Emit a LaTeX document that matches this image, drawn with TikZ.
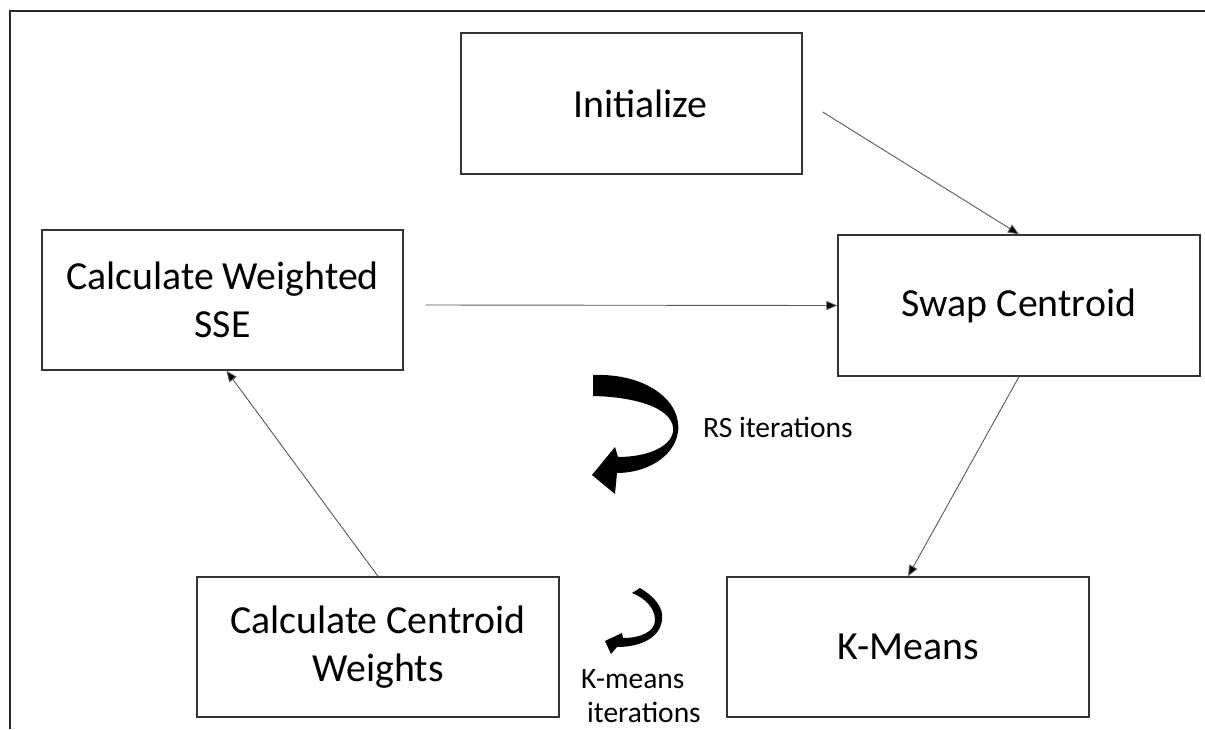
\documentclass[tikz,border=0pt]{standalone}
\usepackage{fontspec}
\setmainfont{Carlito}
\usetikzlibrary{arrows.meta,calc}
\tikzset{
  stepbox/.style={draw=black!80, line width=1.4pt, rectangle, align=center, inner sep=0pt,
    font=\fontsize{39.8}{48}\selectfont},
  conn/.style={draw=black!65, line width=0.9pt, -{Triangle[length=11pt,width=9pt,fill=black]}},
  small/.style={inner sep=0pt, font=\fontsize{29.5}{35}\selectfont},
  bigarrow/.style={fill=black, draw=none}
}
\begin{document}
\begin{tikzpicture}[x=1pt,y=-1pt]
\useasboundingbox (0,0) rectangle (1205,729);
% frame (cropped)
\draw[line width=2pt, black!85] (9.5,729) -- (9.5,11) -- (1205,11);
% boxes
\node[stepbox, minimum width=341pt, minimum height=141pt] (init) at (631.5,103.5) {\hspace*{18pt}Initialize};
\node[stepbox, minimum width=362pt, minimum height=141pt] (swap) at (1019,305.5) {Swap Centroid};
\node[stepbox, minimum width=361pt, minimum height=140pt] (sse) at (222.5,300) {Calculate Weighted\\SSE};
\node[stepbox, minimum width=362pt, minimum height=140pt] (ccw) at (378,647) {Calculate Centroid\\Weights};
\node[stepbox, minimum width=362pt, minimum height=140pt] (kmeans) at (908,647) {K-Means};
% connectors
\draw[conn] ($(init.east)+(20,8.5)$) -- (swap.north);
\draw[conn] ($(sse.east)+(22,5)$) -- (swap.west);
\draw[conn] (swap.south) -- (kmeans.north);
\draw[conn] (ccw.north) -- ($(sse.south)+(4,0)$);
% RS curved arrow
\fill[bigarrow] (593,375) .. controls (645,373) and (682,400) .. (678,432)
  .. controls (674,458) and (645,473) .. (617,473)
  -- (615,494) -- (592,475) -- (615,447) -- (618,457)
  .. controls (645,457) and (670,448) .. (673,432)
  .. controls (676,410) and (640,397) .. (593,396) -- cycle;
\node[small, anchor=base west] (rslab) at (703,437) {RS iterations};
% K-means curved arrow
\fill[bigarrow] (640,588) .. controls (655,597) and (664,608) .. (662,620)
  .. controls (660,638) and (640,647) .. (617,647)
  -- (611,654) -- (605,641) -- (622,633) -- (623,638)
  .. controls (640,638) and (655,632) .. (655,620)
  .. controls (655,608) and (645,598) .. (632,593) -- cycle;
\node[small, anchor=base west] (kmlabA) at (581,688) {K-means};
\node[small, anchor=base west] (kmlabB) at (587,722) {iterations};
\end{tikzpicture}
\end{document}
